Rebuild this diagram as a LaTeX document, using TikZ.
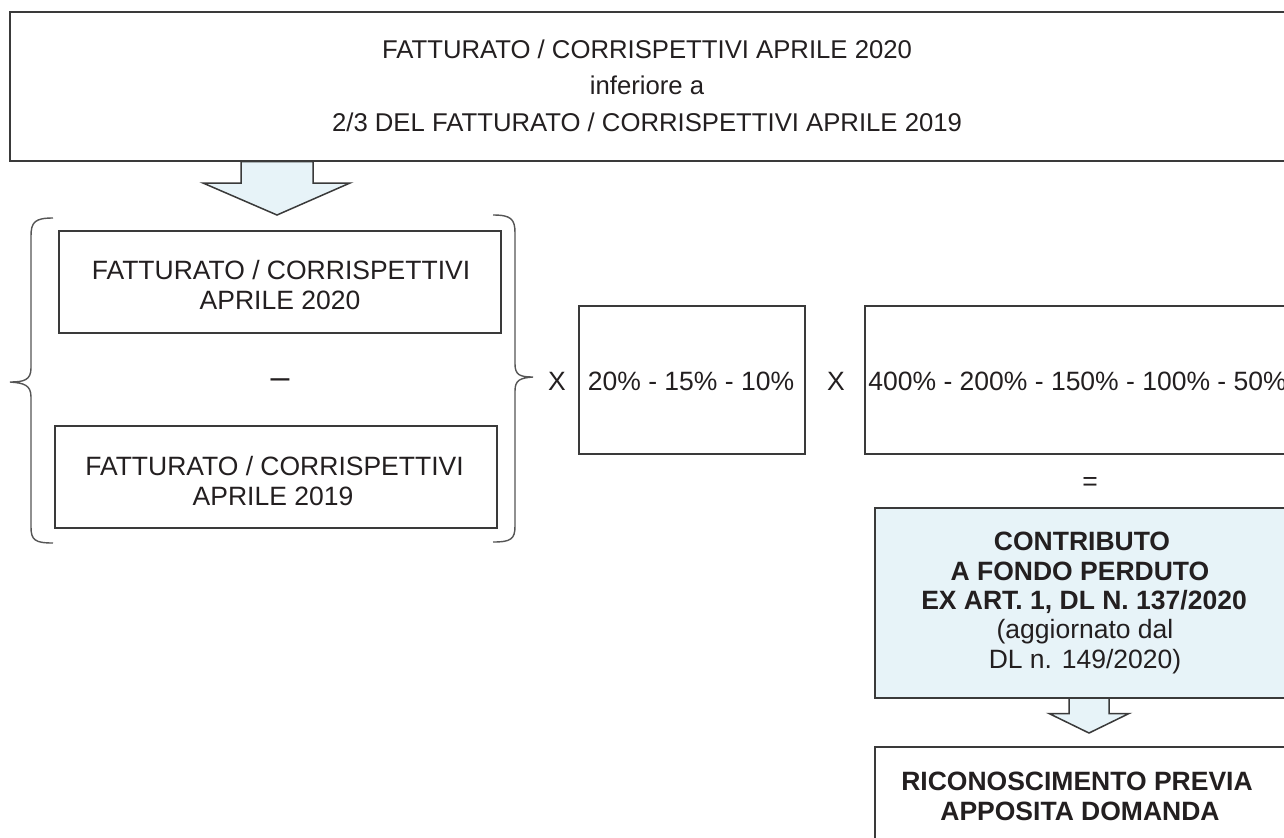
\documentclass[tikz,border=0pt]{standalone}
\usepackage{fontspec}
\setmainfont{Liberation Sans}
\definecolor{linec}{HTML}{3A3A3A}
\definecolor{bracec}{HTML}{555555}
\definecolor{textc}{HTML}{231F20}
\definecolor{fillc}{HTML}{E7F3F8}
\begin{document}
\begin{tikzpicture}[x=0.5pt,y=-0.5pt,
  box/.style={draw=linec, line width=0.75pt, rectangle, inner sep=0pt},
  blockarrow/.style={draw=linec, line width=0.75pt, fill=fillc, line join=miter},
  bracepath/.style={draw=bracec, line width=0.7pt},
  txt/.style={inner sep=0pt, text=textc, anchor=base, font=\fontsize{13.25}{15}\selectfont},
  toptxt/.style={txt, font=\fontsize{12.85}{15}\selectfont},
  boldtxt/.style={txt, font=\fontsize{13.25}{15}\selectfont\bfseries}]
\useasboundingbox (0,0) rectangle (1284,837);
\clip (0,0) rectangle (1284,837);
\fill[white] (0,0) rectangle (1284,837);

% top box
\node[box, minimum width=638.5pt, minimum height=74.5pt] (top) at (648.5,86.5) {};
\node[toptxt] (top1) at (647,58) {FATTURATO / CORRISPETTIVI APRILE 2020};
\node[toptxt] (top2) at (647,94.5) {inferiore a};
\node[toptxt] (top3) at (647,131) {2/3 DEL FATTURATO / CORRISPETTIVI APRILE 2019};

% arrow 1
\draw[blockarrow] (241,161.5) -- (241,183) -- (203,183) -- (277,215) -- (350,183) -- (313,183) -- (313,161.5) -- cycle;

% left brace
\draw[bracepath] (53,218) .. controls (35,218) and (31,222) .. (31,236) -- (31,368)
  .. controls (31,380) and (24,382) .. (10,382)
  .. controls (24,383) and (31,385) .. (31,397) -- (31,527)
  .. controls (31,540) and (35,543) .. (53,543);
% right brace
\draw[bracepath] (493,215) .. controls (511,215) and (515,219) .. (515,233) -- (515,364)
  .. controls (515,375) and (520,377) .. (533,377)
  .. controls (520,378) and (515,380) .. (515,391) -- (515,526)
  .. controls (515,539) and (511,542) .. (493,542);

% box A1
\node[box, minimum width=221pt, minimum height=51pt] (a1) at (280,282) {};
\node[txt] (a1t1) at (281,279.5) {FATTURATO / CORRISPETTIVI};
\node[txt] (a1t2) at (280,309.5) {APRILE 2020};
% minus
\node[txt, font=\fontsize{17}{17}\selectfont] (minus) at (280,388) {–};
% box A2
\node[box, minimum width=221pt, minimum height=51pt] (a2) at (276,477) {};
\node[txt] (a2t1) at (274.5,475.5) {FATTURATO / CORRISPETTIVI};
\node[txt] (a2t2) at (273,505.5) {APRILE 2019};

% times 1
\node[txt] (x1) at (557,390.5) {X};
% box B
\node[box, minimum width=113pt, minimum height=74pt] (b) at (692,380) {};
\node[txt] (bt) at (691,390.5) {20\% - 15\% - 10\%};
% times 2
\node[txt] (x2) at (836,390.5) {X};
% box C
\node[box, minimum width=212pt, minimum height=74pt] (c) at (1077,380) {};
\node[txt, anchor=base west] (ct) at (868,390.5) {400\% - 200\% - 150\% - 100\% - 50\%};

% equals
\node[txt] (eq) at (1090,490.5) {=};

% box D
\node[box, fill=fillc, minimum width=209pt, minimum height=95pt] (d) at (1084,603) {};
\node[boldtxt] (d1) at (1082,550) {CONTRIBUTO};
\node[boldtxt] (d2) at (1080,580) {A FONDO PERDUTO};
\node[boldtxt] (d3) at (1084,609) {EX ART. 1, DL N. 137/2020};
\node[txt] (d4) at (1085,638) {(aggiornato dal};
\node[txt] (d5) at (1085,668) {DL n. 149/2020)};

% arrow 2
\draw[blockarrow] (1069,698) -- (1069,713.5) -- (1049,713.5) -- (1089,733) -- (1129,713.5) -- (1109,713.5) -- (1109,698) -- cycle;

% box E
\node[box, minimum width=209pt, minimum height=80pt] (e) at (1084,827) {};
\node[boldtxt] (e1) at (1077,790) {RICONOSCIMENTO PREVIA};
\node[boldtxt] (e2) at (1080,820) {APPOSITA DOMANDA};
\end{tikzpicture}
\end{document}
